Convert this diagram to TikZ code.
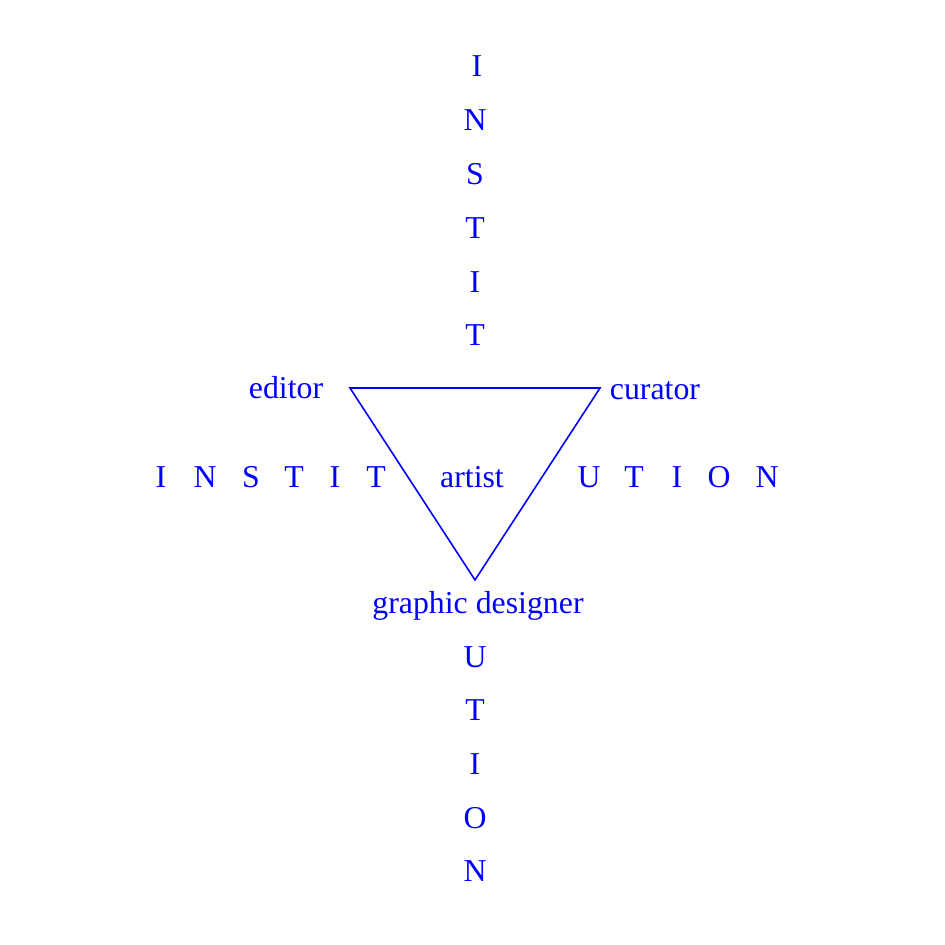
\documentclass[tikz,border=0pt]{standalone}
\usepackage{fontspec}
\setmainfont{Liberation Serif}
\begin{document}
\begin{tikzpicture}[x=0.01cm,y=-0.01cm,
  lbl/.style={text=blue,inner sep=0pt,font=\fontsize{9.05}{11}\selectfont},
  edge/.style={draw=blue,line width=0.45pt}]
\useasboundingbox (0,0) rectangle (945,945);
% vertical letters
\node[lbl] (v1) at (477,66) {I};
\node[lbl] (v2) at (475,120) {N};
\node[lbl] (v3) at (475,174) {S};
\node[lbl] (v4) at (475,228) {T};
\node[lbl] (v5) at (475,282) {I};
\node[lbl] (v6) at (475,335) {T};
\node[lbl] (gd) at (478,606) {graphic designer};
\node[lbl] (b1) at (475,657) {U};
\node[lbl] (b2) at (475,710) {T};
\node[lbl] (b3) at (475,764) {I};
\node[lbl] (b4) at (475,818) {O};
\node[lbl] (b5) at (475,871) {N};
% horizontal letters
\node[lbl] (h1) at (161,477) {I};
\node[lbl] (h2) at (205,477) {N};
\node[lbl] (h3) at (251,477) {S};
\node[lbl] (h4) at (294,477) {T};
\node[lbl] (h5) at (335,477) {I};
\node[lbl] (h6) at (376,477) {T};
\node[lbl] (art) at (472,477) {artist};
\node[lbl] (r1) at (589,477) {U};
\node[lbl] (r2) at (634,477) {T};
\node[lbl] (r3) at (677,477) {I};
\node[lbl] (r4) at (719,477) {O};
\node[lbl] (r5) at (767,477) {N};
% roles
\node[lbl] (ed) at (286,388) {editor};
\node[lbl] (cu) at (655,391) {curator};
% triangle
\coordinate (A) at (350,388);
\coordinate (B) at (600,388);
\coordinate (C) at (475,580);
\draw[edge] (A) -- (B) -- (C) -- cycle;
\end{tikzpicture}
\end{document}
